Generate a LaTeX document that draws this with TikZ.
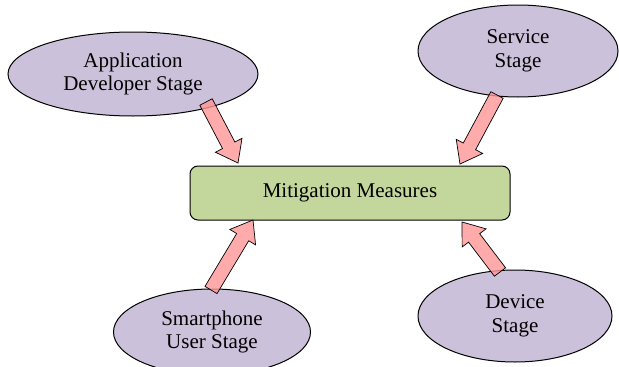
\documentclass[tikz,border=0pt]{standalone}
\usepackage{fontspec}
\setmainfont{Liberation Serif}
\usetikzlibrary{calc,shapes.geometric}
\definecolor{lav}{RGB}{204,193,218}
\definecolor{olive}{RGB}{195,214,155}
\definecolor{pinkarrow}{RGB}{255,150,150}
\tikzset{
  stage/.style={ellipse, draw=black, line width=1pt, fill=lav, align=center, font=\fontsize{21}{23.5}\selectfont, inner sep=0pt},
  mainbox/.style={rectangle, rounded corners=8pt, draw=black, line width=1pt, fill=olive, font=\fontsize{21}{23.5}\selectfont},
  blockarrow/.style={fill=pinkarrow, fill opacity=0.8, draw=black, line width=0.7pt, line join=miter},
}
\newcommand\blockarr[2]{%
  \coordinate (hb) at ($(#2)!20pt!(#1)$);
  \path[blockarrow] ($(#1)!7pt!90:(#2)$) -- ($(hb)!7pt!-90:(#1)$) -- ($(hb)!15pt!-90:(#1)$) -- (#2) -- ($(hb)!15pt!90:(#1)$) -- ($(hb)!7pt!90:(#1)$) -- ($(#1)!7pt!-90:(#2)$) -- cycle;
}
\begin{document}
\begin{tikzpicture}[x=1pt,y=-1pt]
\useasboundingbox (0,0) rectangle (619,367);
\node[stage, minimum width=250pt, minimum height=84pt] (app) at (133,74) {Application\\Developer Stage};
\node[stage, minimum width=200pt, minimum height=92pt] (serv) at (518,51) {Service\\Stage};
\node[stage, minimum width=197pt, minimum height=86pt] (smart) at (212,332) {Smartphone\\User Stage};
\node[stage, minimum width=194pt, minimum height=92pt] (dev) at (515,316) {Device\\Stage};
\node[mainbox, minimum width=320pt, minimum height=54pt] (mit) at (350,193) {Mitigation Measures};
\coordinate (a1s) at (206,102); \coordinate (a1t) at (238,163);
\coordinate (a2s) at (497,95); \coordinate (a2t) at (460,164);
\coordinate (a3s) at (211,290); \coordinate (a3t) at (253,220);
\coordinate (a4s) at (500,272); \coordinate (a4t) at (462,222);
\blockarr{a1s}{a1t}
\blockarr{a2s}{a2t}
\blockarr{a3s}{a3t}
\blockarr{a4s}{a4t}
\end{tikzpicture}
\end{document}
